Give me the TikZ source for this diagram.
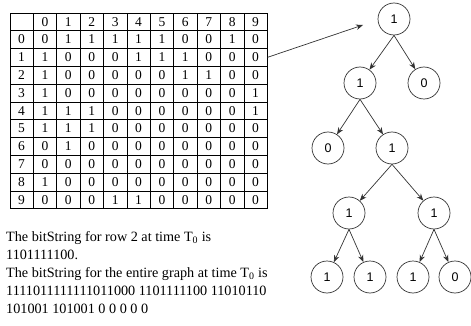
\documentclass[tikz,border=0pt]{standalone}
\usepackage{fontspec}
\setmainfont{Liberation Serif}
\newfontfamily\treefont{Liberation Sans}
\definecolor{treegray}{RGB}{51, 51, 51}
\usetikzlibrary{
    arrows.meta,
    matrix,
    positioning
}
\tikzset{
    cell/.style={draw, line width=0.6pt, minimum width=23.4pt, minimum height=17.8pt,
        inner sep=0pt, anchor=center},
    bitnode/.style={circle, draw=treegray, line width=0.7pt, minimum size=32pt, inner sep=0pt,
        font=\treefont\fontsize{12.5}{12.5}\selectfont},
    treeedge/.style={draw=treegray, line width=0.7pt, -{Stealth[length=7pt, width=5.5pt]}}
}

\begin{document}
\begin{tikzpicture}[x=1pt, y=-1pt]
    \useasboundingbox (0,0) rectangle (471,326);

    % Adjacency table
    \matrix (tbl) [matrix of nodes, nodes in empty cells, anchor=north west,
        nodes={cell, font=\fontsize{13.5}{13.5}\selectfont},
        column sep=-0.6pt, row sep=-0.6pt] at (6,9) {
          & 0 & 1 & 2 & 3 & 4 & 5 & 6 & 7 & 8 & 9 \\
        0 & 0 & 1 & 1 & 1 & 1 & 1 & 0 & 0 & 1 & 0 \\
        1 & 1 & 0 & 0 & 0 & 1 & 1 & 1 & 0 & 0 & 0 \\
        2 & 1 & 0 & 0 & 0 & 0 & 0 & 1 & 1 & 0 & 0 \\
        3 & 1 & 0 & 0 & 0 & 0 & 0 & 0 & 0 & 0 & 1 \\
        4 & 1 & 1 & 1 & 0 & 0 & 0 & 0 & 0 & 0 & 1 \\
        5 & 1 & 1 & 1 & 0 & 0 & 0 & 0 & 0 & 0 & 0 \\
        6 & 0 & 1 & 0 & 0 & 0 & 0 & 0 & 0 & 0 & 0 \\
        7 & 0 & 0 & 0 & 0 & 0 & 0 & 0 & 0 & 0 & 0 \\
        8 & 1 & 0 & 0 & 0 & 0 & 0 & 0 & 0 & 0 & 0 \\
        9 & 0 & 0 & 0 & 1 & 1 & 0 & 0 & 0 & 0 & 0 \\
    };

    % Bit strings
    \node[anchor=north west, inner sep=0pt, align=left, font=\fontsize{14.2}{18}\selectfont]
        (bits) at (6,231) {The bitString for row 2 at time T\textsubscript{0} is\\
        1101111100.\\
        The bitString for the entire graph at time T\textsubscript{0} is\\
        1111011111111011000 1101111100 11010110\\
        101001 101001 0 0 0 0 0};

    % Tree of bits
    \node[bitnode] (root) at (394,19) {1};
    \node[bitnode] (l1) at (360,83) {1};
    \node[bitnode] (r1) at (424,83) {0};
    \node[bitnode] (l2) at (328,148) {0};
    \node[bitnode] (r2) at (392,148) {1};
    \node[bitnode] (l3) at (349,213) {1};
    \node[bitnode] (r3) at (434,213) {1};
    \node[bitnode] (a4) at (327,277) {1};
    \node[bitnode] (b4) at (370,277) {1};
    \node[bitnode] (c4) at (413,277) {1};
    \node[bitnode] (d4) at (455,277) {0};

    \draw[treeedge] (root.south) -- (l1);
    \draw[treeedge] (root.south) -- (r1);
    \draw[treeedge] (l1.south) -- (l2);
    \draw[treeedge] (l1.south) -- (r2);
    \draw[treeedge] (r2.south) -- (l3);
    \draw[treeedge] (r2.south) -- (r3);
    \draw[treeedge] (l3.south) -- (a4);
    \draw[treeedge] (l3.south) -- (b4);
    \draw[treeedge] (r3.south) -- (c4);
    \draw[treeedge] (r3.south) -- (d4);

    % Row 1 points at the root
    \coordinate (rowtip) at (363,25);
    \draw[treeedge] (tbl-3-11.east) -- (rowtip);
\end{tikzpicture}
\end{document}
